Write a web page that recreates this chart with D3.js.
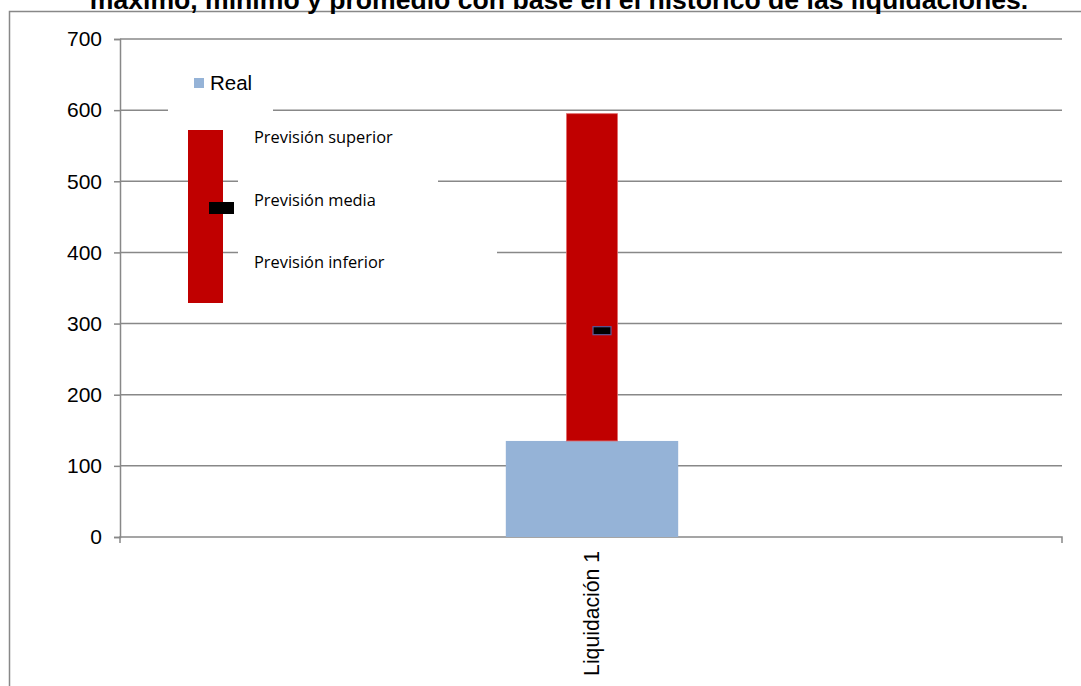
<!DOCTYPE html>
<html>
<head>
<meta charset="utf-8">
<script src="https://cdn.jsdelivr.net/npm/d3@7"></script>
<style>
  body{margin:0;background:#fff;}
  svg{display:block;}
</style>
</head>
<body>
<svg id="chart" width="1081" height="686"></svg>
<script>
'use strict';
// data
var categories = ['Liquidación 1'],
    realValues = [135],
    upperValues = [595],
    lowerValues = [135],
    meanValues = [290],
    yTicks = [0, 100, 200, 300, 400, 500, 600, 700],
    title = 'máximo, mínimo y promedio con base en el histórico de las liquidaciones.';

var svg = d3.select('#chart'),
    gridColor = '#888888',
    realColor = '#95b3d7',
    rangeColor = '#c00000';

var x = d3.scaleBand().domain(categories).range([121, 1063]),
    y = d3.scaleLinear().domain([0, 700]).range([537, 39]);

// outer frame (runs off the right and bottom edges)
svg.append('rect')
   .attr('x', 9.5).attr('y', 11.5)
   .attr('width', 1200).attr('height', 800)
   .attr('fill', 'none').attr('stroke', gridColor).attr('stroke-width', 1.5);

// title, cut at the top like the source
svg.append('text')
   .text(title)
   .attr('x', 559).attr('y', 9)
   .style('font-family', 'Liberation Sans, Arial, sans-serif')
   .style('font-weight', 'bold')
   .style('font-size', '26.6px')
   .style('text-anchor', 'middle');

// gridlines
svg.append('g').selectAll('line')
   .data(yTicks.filter(d => d > 0))
   .enter().append('line')
   .attr('x1', 120).attr('x2', 1062)
   .attr('y1', d => y(d)).attr('y2', d => y(d))
   .attr('stroke', gridColor).attr('stroke-width', 1.5);

// y axis
var yAxis = svg.append('g')
   .attr('transform', 'translate(120,0)')
   .call(d3.axisLeft(y).tickValues(yTicks).tickSize(6).tickPadding(12).tickFormat(d3.format('d')));
yAxis.selectAll('line,path').attr('stroke', gridColor).attr('stroke-width', 1.5);
yAxis.selectAll('text')
   .style('font-family', 'Liberation Sans, Arial, sans-serif')
   .style('font-size', '21px').attr('fill', '#000');

// x axis
var xAxis = svg.append('g')
   .attr('transform', 'translate(0,' + y(0) + ')')
   .call(d3.axisBottom(x).tickSize(0).tickPadding(0));
xAxis.select('path').attr('stroke', gridColor).attr('stroke-width', 1.5)
   .attr('d', 'M120,6V0H1062V6');
xAxis.selectAll('text')
   .attr('transform', 'rotate(-90)')
   .attr('x', -14).attr('y', 0).attr('dy', '0.35em')
   .style('text-anchor', 'end')
   .style('font-family', 'Liberation Sans, Arial, sans-serif')
   .style('font-size', '21.2px').attr('fill', '#000');

// real bar
var bars = svg.append('g');
bars.selectAll('rect.real')
   .data(categories)
   .enter().append('rect')
   .attr('class', 'real')
   .attr('x', (d) => x(d) + x.bandwidth() * (0.5 - 0.0915))
   .attr('width', x.bandwidth() * 0.183)
   .attr('y', (d, i) => y(realValues[i]))
   .attr('height', (d, i) => y(0) - y(realValues[i]))
   .attr('fill', realColor);

// forecast range bar
bars.selectAll('rect.range')
   .data(categories)
   .enter().append('rect')
   .attr('class', 'range')
   .attr('x', (d) => x(d) + x.bandwidth() * (0.5 - 0.027))
   .attr('width', x.bandwidth() * 0.054)
   .attr('y', (d, i) => y(upperValues[i]))
   .attr('height', (d, i) => y(lowerValues[i]) - y(upperValues[i]))
   .attr('fill', rangeColor)
   .attr('stroke', '#e06666').attr('stroke-width', 0.8);

// mean marker
bars.selectAll('rect.mean')
   .data(categories)
   .enter().append('rect')
   .attr('class', 'mean')
   .attr('x', (d) => x(d) + x.bandwidth() / 2 + 1)
   .attr('width', 18)
   .attr('y', (d, i) => y(meanValues[i]) - 4)
   .attr('height', 8)
   .attr('fill', '#000')
   .attr('stroke', '#5a5a9a').attr('stroke-width', 1.2);

// legend "Real"
var leg = svg.append('g');
leg.append('rect').attr('x', 168).attr('y', 62).attr('width', 105).attr('height', 56).attr('fill', '#fff');
leg.append('rect').attr('x', 194).attr('y', 78).attr('width', 10).attr('height', 10).attr('fill', realColor);
leg.append('text').text('Real')
   .attr('x', 210).attr('y', 90)
   .style('font-family', 'Liberation Sans, Arial, sans-serif')
   .style('font-size', '20.5px');

// legend picture for the forecast range
var legItems = [
  {label: 'Previsión superior', y: 143, w: 200},
  {label: 'Previsión media', y: 206, w: 200},
  {label: 'Previsión inferior', y: 268, w: 259}
];
leg.selectAll('rect.box')
   .data(legItems)
   .enter().append('rect')
   .attr('class', 'box')
   .attr('x', 238).attr('y', d => d.y - 26)
   .attr('width', d => d.w).attr('height', 44)
   .attr('fill', '#fff');
leg.append('rect').attr('x', 188).attr('y', 130).attr('width', 35).attr('height', 173).attr('fill', rangeColor);
leg.append('rect').attr('x', 209).attr('y', 202).attr('width', 25).attr('height', 12).attr('fill', '#000');
leg.selectAll('text.item')
   .data(legItems)
   .enter().append('text')
   .attr('class', 'item')
   .text(d => d.label)
   .attr('x', 254).attr('y', d => d.y)
   .style('font-family', 'Open Sans, Noto Sans, sans-serif')
   .style('font-size', '16.4px')
   .style('fill', '#000');
</script>
</body>
</html>
